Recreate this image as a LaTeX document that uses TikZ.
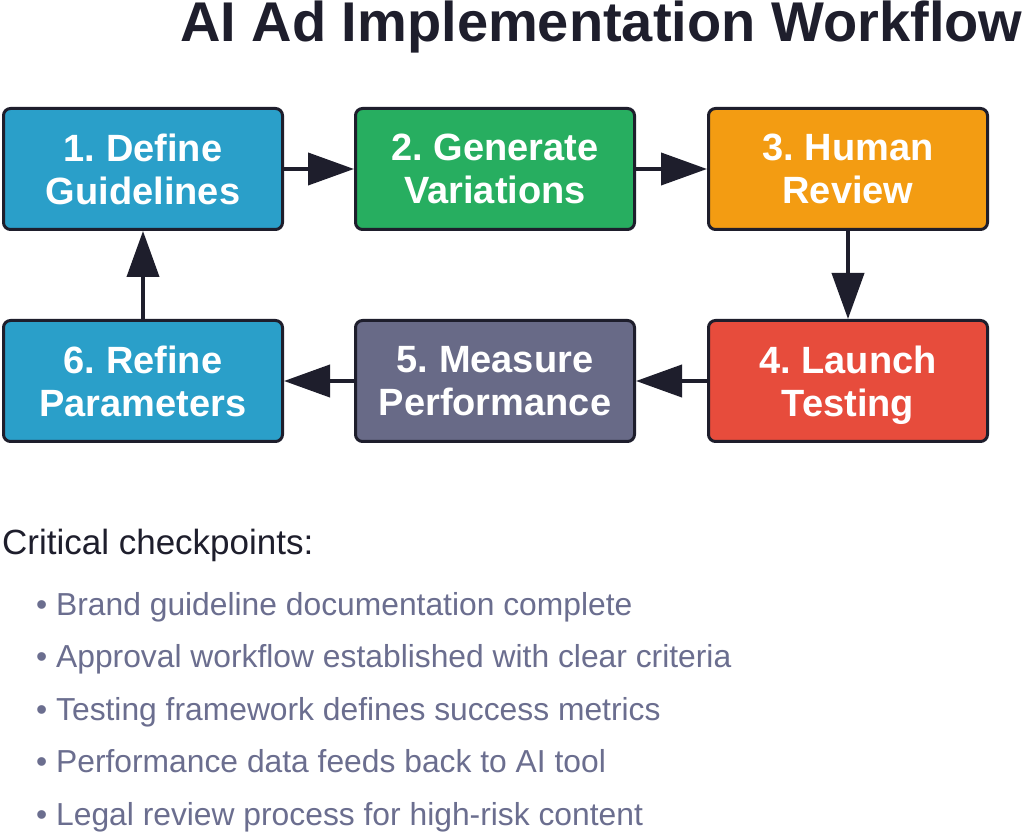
\documentclass[tikz,border=0pt]{standalone}
\usepackage{fontspec}
\setmainfont{Liberation Sans}
\usetikzlibrary{arrows.meta}
\definecolor{dark_ink}{HTML}{1E1E2C}
\definecolor{step_blue}{HTML}{2A9FC9}
\definecolor{step_green}{HTML}{27AE60}
\definecolor{step_orange}{HTML}{F39C12}
\definecolor{step_red}{HTML}{E74C3C}
\definecolor{step_slate}{HTML}{686A87}
\definecolor{note_gray}{HTML}{6B6E8F}
\frenchspacing

\begin{document}
\begin{tikzpicture}[x = 1pt, y = 1pt,
                        step_box/.style = {draw = dark_ink, line width = 3pt, rounded corners = 7pt,
                        minimum width = 279pt, minimum height = 121pt, inner sep = 0pt,
                        text = white, align = center, text depth = 0pt,
                        font = \bfseries\fontsize{38}{43}\selectfont},
                        flow_arrow/.style = {draw = dark_ink, line width = 4pt,
                        -{Triangle[length = 46pt, width = 32pt]}},
                        note_line/.style = {anchor = base west, inner sep = 0pt, text = note_gray,
                        font = \fontsize{31.8}{36}\selectfont}]
        \useasboundingbox[fill = white] (0,0) rectangle (1024,833);
        %title
        \node[anchor = base west, inner sep = 0pt, text = dark_ink,
              font = \bfseries\fontsize{56}{60}\selectfont] (title) at (180,791) {AI Ad Implementation Workflow};
        %top row
        \node[step_box, fill = step_blue] (define) at (143,664) {1. Define\\Guidelines};
        \node[step_box, fill = step_green] (generate) at (495,664) {2. Generate\\Variations};
        \node[step_box, fill = step_orange] (review) at (848,664) {3. Human\\Review};
        %bottom row
        \node[step_box, fill = step_red] (launch) at (848,452) {4. Launch\\Testing};
        \node[step_box, fill = step_slate] (measure) at (495,452) {5. Measure\\Performance};
        \node[step_box, fill = step_blue] (refine) at (143,452) {6. Refine\\Parameters};
        %arrows
        \draw[flow_arrow] (define) -- (generate);
        \draw[flow_arrow] (generate) -- (review);
        \draw[flow_arrow] (review) -- (launch);
        \draw[flow_arrow] (launch) -- (measure);
        \draw[flow_arrow] (measure) -- (refine);
        \draw[flow_arrow] (refine) -- (define);
        %checkpoints
        \node[anchor = base west, inner sep = 0pt, text = dark_ink,
              font = \fontsize{35}{40}\selectfont] (checks) at (2,279) {Critical checkpoints:};
        \node[note_line] (note1) at (36,218) {• Brand guideline documentation complete};
        \node[note_line] (note2) at (36,165.5) {• Approval workflow established with clear criteria};
        \node[note_line] (note3) at (36,113) {• Testing framework defines success metrics};
        \node[note_line] (note4) at (36,60.5) {• Performance data feeds back to AI tool};
        \node[note_line] (note5) at (36,8) {• Legal review process for high-risk content};
    \end{tikzpicture}
\end{document}
